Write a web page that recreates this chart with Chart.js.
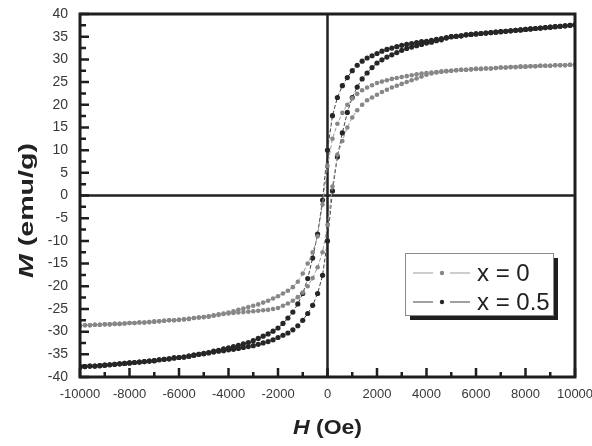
<!DOCTYPE html>
<html>
<head>
<meta charset="utf-8">
<script src="https://cdn.jsdelivr.net/npm/chart.js@4.4.1/dist/chart.umd.min.js"></script>
<style>
    html, body { margin: 0; padding: 0; background: #fff; }
    canvas { display: block; }
</style>
</head>
<body>
<canvas id="loop" width="592" height="446" style="width:592px;height:446px"></canvas>
<script>
// Applied field, Oe (-10000 .. 10000, every 200 Oe)
const fieldOe = [
    -10000, -9800, -9600, -9400, -9200, -9000, -8800, -8600, -8400, -8200,
    -8000, -7800, -7600, -7400, -7200, -7000, -6800, -6600, -6400, -6200,
    -6000, -5800, -5600, -5400, -5200, -5000, -4800, -4600, -4400, -4200,
    -4000, -3800, -3600, -3400, -3200, -3000, -2800, -2600, -2400, -2200,
    -2000, -1800, -1600, -1400, -1200, -1000, -800, -600, -400, -200,
    0, 200, 400, 600, 800, 1000, 1200, 1400, 1600, 1800,
    2000, 2200, 2400, 2600, 2800, 3000, 3200, 3400, 3600, 3800,
    4000, 4200, 4400, 4600, 4800, 5000, 5200, 5400, 5600, 5800,
    6000, 6200, 6400, 6600, 6800, 7000, 7200, 7400, 7600, 7800,
    8000, 8200, 8400, 8600, 8800, 9000, 9200, 9400, 9600, 9800,
    10000,
];

// x = 0.5, field going up (lower branch)
const m05Up = [
    -37.8, -37.7, -37.6, -37.6, -37.5, -37.4, -37.3, -37.2, -37.1, -37.0,
    -36.9, -36.8, -36.7, -36.6, -36.5, -36.4, -36.2, -36.1, -36.0, -35.8,
    -35.7, -35.6, -35.4, -35.2, -35.0, -34.9, -34.7, -34.5, -34.3, -34.2,
    -34.0, -33.9, -33.7, -33.5, -33.3, -33.1, -32.8, -32.5, -32.2, -31.8,
    -31.3, -30.8, -30.3, -29.6, -28.7, -27.5, -26.0, -24.2, -21.6, -17.6,
    -10.0, 1.0, 8.5, 13.8, 18.3, 21.6, 23.9, 25.7, 27.0, 28.2,
    29.2, 29.9, 30.5, 31.0, 31.5, 32.0, 32.4, 32.7, 33.0, 33.3,
    33.6, 33.8, 34.1, 34.3, 34.7, 35.0, 35.1, 35.2, 35.4, 35.5,
    35.6, 35.7, 35.8, 35.9, 36.0, 36.1, 36.2, 36.3, 36.4, 36.5,
    36.6, 36.7, 36.8, 36.9, 37.0, 37.1, 37.2, 37.3, 37.4, 37.5,
    37.6,
];

// x = 0.5, field going down (upper branch), listed in the same field order
const m05Down = [
    -37.8, -37.7, -37.6, -37.6, -37.5, -37.4, -37.3, -37.2, -37.1, -37.0,
    -36.9, -36.8, -36.7, -36.6, -36.5, -36.4, -36.2, -36.1, -36.0, -35.8,
    -35.7, -35.6, -35.4, -35.2, -35.0, -34.8, -34.6, -34.3, -34.1, -33.8,
    -33.6, -33.3, -33.0, -32.7, -32.4, -32.0, -31.5, -31.0, -30.5, -29.9,
    -29.2, -28.2, -27.0, -25.7, -23.9, -21.6, -18.3, -13.8, -8.5, -1.0,
    10.0, 17.6, 21.6, 24.2, 26.0, 27.5, 28.7, 29.6, 30.3, 30.8,
    31.3, 31.8, 32.2, 32.5, 32.8, 33.1, 33.3, 33.5, 33.7, 33.9,
    34.0, 34.2, 34.4, 34.6, 34.8, 35.0, 35.1, 35.2, 35.4, 35.5,
    35.6, 35.7, 35.8, 35.9, 36.0, 36.1, 36.2, 36.3, 36.4, 36.5,
    36.6, 36.7, 36.8, 36.9, 37.0, 37.1, 37.2, 37.3, 37.4, 37.5,
    37.6,
];

// x = 0, field going up (lower branch)
const m0Up = [
    -28.7, -28.6, -28.6, -28.5, -28.5, -28.4, -28.4, -28.3, -28.3, -28.2,
    -28.1, -28.1, -28.0, -28.0, -27.9, -27.8, -27.7, -27.6, -27.5, -27.5,
    -27.4, -27.3, -27.2, -27.0, -26.9, -26.8, -26.7, -26.5, -26.3, -26.1,
    -26.0, -25.9, -25.8, -25.7, -25.6, -25.5, -25.4, -25.3, -25.2, -25.0,
    -24.8, -24.3, -23.8, -23.2, -22.4, -21.4, -20.0, -18.2, -15.8, -12.5,
    -6.5, 2.0, 9.0, 12.0, 15.0, 17.2, 18.8, 20.0, 21.0, 21.6,
    22.2, 22.8, 23.3, 23.8, 24.2, 24.6, 25.0, 25.4, 25.8, 26.2,
    26.6, 26.9, 27.1, 27.3, 27.4, 27.5, 27.6, 27.7, 27.7, 27.8,
    27.9, 27.9, 28.0, 28.0, 28.1, 28.2, 28.2, 28.3, 28.3, 28.4,
    28.4, 28.5, 28.5, 28.6, 28.6, 28.6, 28.7, 28.7, 28.7, 28.8,
    28.8,
];

// x = 0, field going down (upper branch)
const m0Down = [
    -28.7, -28.6, -28.6, -28.5, -28.5, -28.4, -28.4, -28.3, -28.3, -28.2,
    -28.1, -28.1, -28.0, -28.0, -27.9, -27.8, -27.7, -27.6, -27.5, -27.5,
    -27.4, -27.3, -27.2, -27.0, -26.9, -26.8, -26.6, -26.4, -26.2, -26.0,
    -25.8, -25.5, -25.2, -24.9, -24.6, -24.3, -24.0, -23.6, -23.2, -22.7,
    -22.2, -21.6, -21.0, -20.2, -19.0, -17.2, -15.0, -12.5, -9.0, -2.0,
    6.5, 12.5, 15.8, 18.2, 20.0, 21.4, 22.4, 23.2, 23.8, 24.3,
    24.8, 25.1, 25.4, 25.7, 25.9, 26.1, 26.3, 26.5, 26.7, 26.9,
    27.0, 27.1, 27.2, 27.3, 27.4, 27.5, 27.6, 27.7, 27.7, 27.8,
    27.9, 27.9, 28.0, 28.0, 28.1, 28.2, 28.2, 28.3, 28.3, 28.4,
    28.4, 28.5, 28.5, 28.6, 28.6, 28.6, 28.7, 28.7, 28.7, 28.8,
    28.8,
];

const seriesLabels = ['x = 0', 'x = 0.5'];
const xTitle = ['H', ' (Oe)'];
const yTitle = ['M', ' (emu/g)'];

const FONT = '"Liberation Sans", Arial, Helvetica, sans-serif';

// one closed loop: up branch, then back down
const toLoop = (up, down) => {
    const rising = fieldOe.map((h, i) => ({ x: h, y: up[i] }));
    const falling = fieldOe.map((h, i) => ({ x: h, y: down[i] })).reverse();
    return rising.concat(falling);
};

const drawTitle = (ctx, parts, cx, cy, length, vertical) => {
    const fonts = [`italic bold 21px ${FONT}`, `bold 21px ${FONT}`];
    ctx.save();
    ctx.translate(cx, cy);
    if (vertical) {
        ctx.rotate(-Math.PI / 2);
    }
    let w = 0;
    parts.forEach((t, i) => {
        ctx.font = fonts[i];
        w += ctx.measureText(t).width;
    });
    ctx.scale(length / w, 1);
    ctx.fillStyle = '#222';
    ctx.textBaseline = 'middle';
    ctx.textAlign = 'left';
    let tx = -w / 2;
    parts.forEach((t, i) => {
        ctx.font = fonts[i];
        ctx.fillText(t, tx, 0);
        tx += ctx.measureText(t).width;
    });
    ctx.restore();
};

const framePlugin = {
    id: 'frame',
    beforeDatasetsDraw: (chart) => {
        const { ctx, chartArea: a, scales: { x, y } } = chart;
        const x0 = x.getPixelForValue(0);
        const y0 = y.getPixelForValue(0);
        ctx.save();
        ctx.strokeStyle = '#222';
        ctx.lineWidth = 2.5;
        ctx.beginPath();
        ctx.moveTo(a.left, y0);
        ctx.lineTo(a.right, y0);
        ctx.moveTo(x0, a.top);
        ctx.lineTo(x0, a.bottom);
        ctx.stroke();
        ctx.restore();
    },
    afterDatasetsDraw: (chart) => {
        const { ctx, chartArea: a, scales: { x, y } } = chart;
        ctx.save();
        ctx.strokeStyle = '#1e1e1e';
        ctx.lineWidth = 2.5;
        ctx.beginPath();

        // inward ticks, left axis
        const yStep = y.ticks[1].value - y.ticks[0].value;
        y.ticks.forEach((t) => {
            const py = y.getPixelForValue(t.value);
            ctx.moveTo(a.left, py);
            ctx.lineTo(a.left + 9, py);
            if (t.value + yStep / 2 < y.max) {
                const pm = y.getPixelForValue(t.value + yStep / 2);
                ctx.moveTo(a.left, pm);
                ctx.lineTo(a.left + 6, pm);
            }
        });

        // inward ticks, bottom axis
        const xStep = x.ticks[1].value - x.ticks[0].value;
        x.ticks.forEach((t) => {
            const px = x.getPixelForValue(t.value);
            ctx.moveTo(px, a.bottom);
            ctx.lineTo(px, a.bottom - 9);
            if (t.value + xStep / 2 < x.max) {
                const pm = x.getPixelForValue(t.value + xStep / 2);
                ctx.moveTo(pm, a.bottom);
                ctx.lineTo(pm, a.bottom - 5);
            }
        });
        ctx.stroke();

        ctx.lineWidth = 3;
        ctx.strokeRect(a.left, a.top, a.right - a.left, a.bottom - a.top);
        ctx.restore();
    },
    afterDraw: (chart) => {
        const { ctx, chartArea: a, scales: { x } } = chart;

        drawTitle(ctx, xTitle, x.getPixelForValue(0), a.bottom + 51, 69, false);
        drawTitle(ctx, yTitle, 27, (a.top + a.bottom) / 2 + 15, 135, true);

        // legend box with drop shadow
        const bx = a.left + 325;
        const by = a.top + 239;
        const bw = 148;
        const bh = 62;
        ctx.save();
        ctx.fillStyle = '#1e1e1e';
        ctx.fillRect(bx + 5, by + 5, bw, bh);
        ctx.fillStyle = '#fff';
        ctx.fillRect(bx, by, bw, bh);
        ctx.strokeStyle = '#8a8a8a';
        ctx.lineWidth = 1;
        ctx.strokeRect(bx + 0.5, by + 0.5, bw, bh);

        chart.data.datasets.forEach((ds, i) => {
            const ry = by + 20 + i * 29;
            ctx.strokeStyle = ds.borderColor;
            ctx.lineWidth = 1.2;
            ctx.beginPath();
            ctx.moveTo(bx + 8, ry);
            ctx.lineTo(bx + 28, ry);
            ctx.moveTo(bx + 45, ry);
            ctx.lineTo(bx + 65, ry);
            ctx.stroke();
            ctx.fillStyle = ds.pointBackgroundColor;
            ctx.beginPath();
            ctx.arc(bx + 37, ry, 2.2, 0, Math.PI * 2);
            ctx.fill();

            ctx.fillStyle = '#222';
            ctx.font = `24px ${FONT}`;
            ctx.textAlign = 'left';
            ctx.textBaseline = 'middle';
            ctx.fillText(ds.label, bx + 72, ry + 1);
        });
        ctx.restore();
    },
};

const config = {
    type: 'scatter',
    data: {
        datasets: [
            {
                label: seriesLabels[0],
                data: toLoop(m0Up, m0Down),
                showLine: true,
                borderColor: '#9c9c9c',
                borderWidth: 1,
                borderDash: [4, 2],
                pointRadius: 2.3,
                pointBorderWidth: 0,
                pointBackgroundColor: '#878787',
                pointBorderColor: '#878787',
            },
            {
                label: seriesLabels[1],
                data: toLoop(m05Up, m05Down),
                showLine: true,
                borderColor: '#444',
                borderWidth: 1,
                borderDash: [4, 2],
                pointRadius: 2.6,
                pointBorderWidth: 0,
                pointBackgroundColor: '#262626',
                pointBorderColor: '#262626',
            },
        ],
    },
    options: {
        responsive: false,
        animation: false,
        events: [],
        layout: {
            padding: { top: 14, right: 17, left: 0, bottom: 0 },
        },
        plugins: {
            legend: { display: false },
            tooltip: { enabled: false },
        },
        scales: {
            x: {
                type: 'linear',
                min: -10000,
                max: 10000,
                afterFit: (s) => {
                    s.height = 69;
                    s.paddingLeft = 0;
                    s.paddingRight = 0;
                },
                grid: { display: false, drawTicks: false },
                border: { display: false },
                ticks: {
                    stepSize: 2000,
                    autoSkip: false,
                    maxRotation: 0,
                    padding: 10,
                    color: '#383838',
                    font: { family: FONT, size: 13 },
                    callback: (value) => String(value),
                },
            },
            y: {
                type: 'linear',
                min: -40,
                max: 40,
                afterFit: (s) => {
                    s.width = 80;
                    s.paddingTop = 0;
                    s.paddingBottom = 0;
                },
                grid: { display: false, drawTicks: false },
                border: { display: false },
                ticks: {
                    stepSize: 5,
                    autoSkip: false,
                    padding: 12,
                    color: '#383838',
                    font: { family: FONT, size: 14 },
                    callback: (value) => String(value),
                },
            },
        },
    },
    plugins: [framePlugin],
};

new Chart(document.getElementById('loop').getContext('2d'), config);
</script>
</body>
</html>
